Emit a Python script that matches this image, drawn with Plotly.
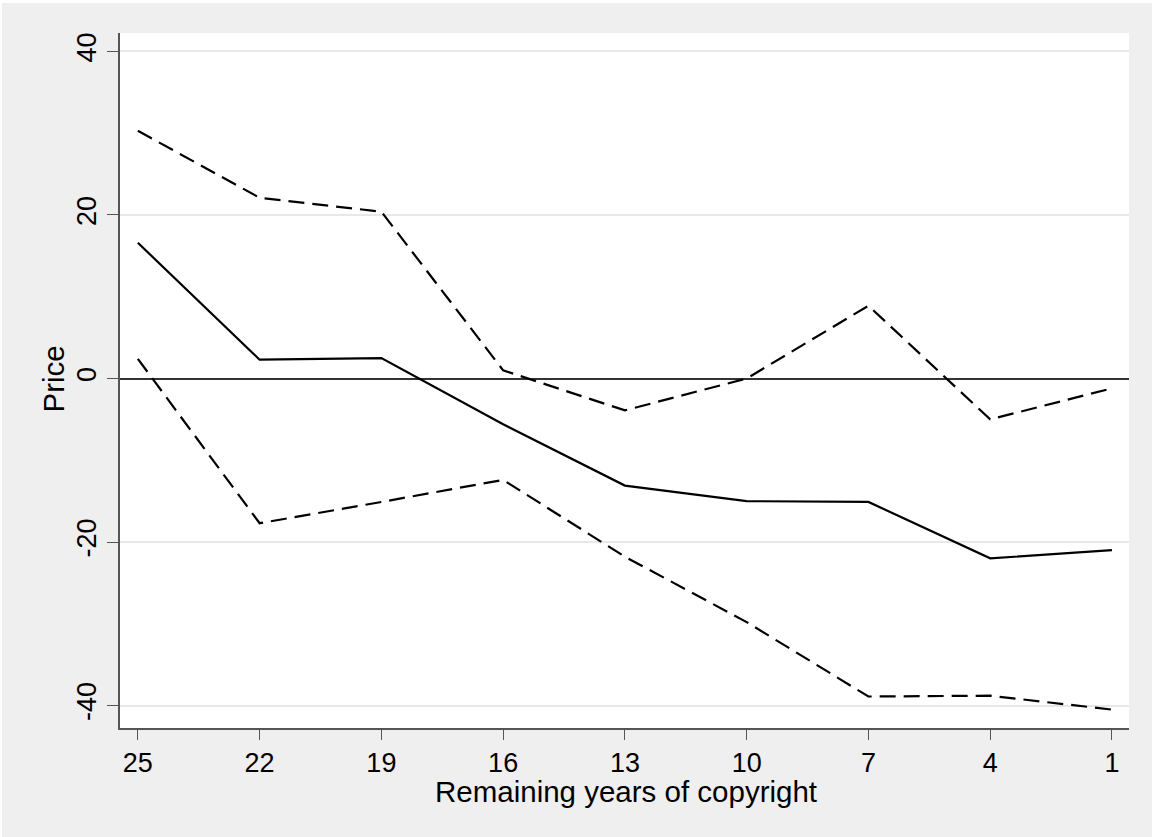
import plotly.graph_objects as go

# Data
years = [25, 22, 19, 16, 13, 10, 7, 4, 1]
price_est = [16.6, 2.3, 2.5, -5.6, -13.1, -15.0, -15.1, -22.0, -21.0]
upper_ci = [30.3, 22.1, 20.4, 1.0, -3.9, 0.0, 8.9, -5.0, -1.2]
lower_ci = [2.4, -17.7, -15.1, -12.4, -21.8, -29.8, -38.9, -38.8, -40.5]
x_ticks = [25, 22, 19, 16, 13, 10, 7, 4, 1]
y_ticks = [-40, -20, 0, 20, 40]

FONT = "Arial, Liberation Sans, sans-serif"
OX, OY = 2, 3                      # page offset of the figure (thin white strip)
W, H = 1152 - OX, 837 - OY
L, R, T, B = 120 - OX, 23, 33 - OY, 109
PW, PH = W - L - R, H - T - B

fig = go.Figure()
fig.add_trace(go.Scatter(x=years, y=upper_ci, mode="lines",
                         line=dict(color="black", width=2.2, dash="16px,8px"),
                         showlegend=False, hoverinfo="skip"))
fig.add_trace(go.Scatter(x=years, y=lower_ci, mode="lines",
                         line=dict(color="black", width=2.2, dash="16px,8px"),
                         showlegend=False, hoverinfo="skip"))
fig.add_trace(go.Scatter(x=years, y=price_est, mode="lines",
                         line=dict(color="black", width=2.2),
                         showlegend=False, hoverinfo="skip"))

fig.update_layout(
    width=W, height=H,
    margin=dict(l=L, r=R, t=T, b=B, pad=0),
    paper_bgcolor="#EFEFEF",
    plot_bgcolor="white",
    font=dict(family=FONT, size=27, color="black"),
    xaxis=dict(
        range=[25.44, 0.58], tickmode="array", tickvals=x_ticks,
        ticktext=[str(v) for v in x_ticks],
        ticks="outside", ticklen=10, tickwidth=1.2, tickcolor="#555555",
        showline=True, linecolor="#555555", linewidth=1.5, mirror=False,
        showgrid=False, zeroline=False,
        tickfont=dict(family=FONT, size=27, color="black"),
    ),
    yaxis=dict(
        range=[-42.75, 42.26], tickmode="array", tickvals=y_ticks,
        ticktext=[str(v) for v in y_ticks],
        ticks="outside", ticklen=11, tickwidth=1.2, tickcolor="#555555",
        showline=True, linecolor="#555555", linewidth=1.5, mirror=False,
        showgrid=True, gridcolor="#E8E8E8", gridwidth=2,
        zeroline=True, zerolinecolor="#333333", zerolinewidth=1.6,
        tickangle=-90,
        tickfont=dict(family=FONT, size=27, color="black"),
    ),
    annotations=[
        dict(text="Remaining years of copyright", xref="paper", yref="paper",
             x=(626 - 120) / PW, y=(728 - 791) / PH, xanchor="center", yanchor="middle",
             showarrow=False, font=dict(family=FONT, size=29.5, color="black")),
        dict(text="Price", xref="paper", yref="paper",
             x=(53 - 120) / PW, y=(728 - 379.5) / PH, xanchor="center", yanchor="middle",
             textangle=-90, showarrow=False, font=dict(family=FONT, size=29.5, color="black")),
    ],
)

fig.write_html(
    "out.html",
    post_script="document.body.style.margin='%dpx 0 0 %dpx';document.body.style.overflow='hidden';" % (OY, OX),
)
